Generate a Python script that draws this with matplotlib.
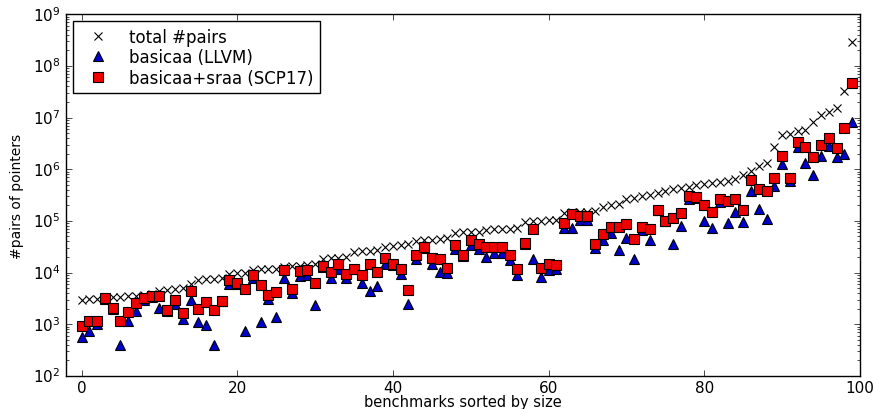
import numpy as np
import matplotlib
matplotlib.use('Agg')
import matplotlib.pyplot as plt

# values (one entry per benchmark, sorted by size)
total_pairs = [
    3.0e3, 3.05e3, 3.1e3, 3.3e3, 3.4e3, 3.45e3, 3.5e3, 3.6e3, 3.7e3, 3.8e3,
    4.4e3, 4.6e3, 4.8e3, 5.0e3, 6.0e3, 7.2e3, 7.4e3, 7.6e3, 7.8e3, 9.6e3,
    9.8e3, 1.0e4, 1.1e4, 1.15e4, 1.17e4, 1.2e4, 1.3e4, 1.33e4, 1.36e4, 1.4e4,
    1.45e4, 1.8e4, 1.9e4, 1.95e4, 2.0e4, 2.5e4, 2.6e4, 2.65e4, 2.7e4, 3.2e4,
    3.3e4, 3.4e4, 3.5e4, 4.0e4, 4.2e4, 4.3e4, 4.5e4, 4.6e4, 5.8e4, 6.0e4,
    6.1e4, 6.2e4, 6.7e4, 6.9e4, 7.0e4, 7.1e4, 7.2e4, 9.5e4, 9.8e4, 1.0e5,
    1.02e5, 1.05e5, 1.45e5, 1.48e5, 1.5e5, 1.52e5, 1.55e5, 1.9e5, 2.0e5, 2.1e5,
    2.7e5, 2.8e5, 3.1e5, 3.2e5, 3.5e5, 3.8e5, 4.1e5, 4.3e5, 4.5e5, 5.0e5,
    5.1e5, 5.4e5, 5.7e5, 6.0e5, 6.6e5, 7.8e5, 9.4e5, 1.15e6, 1.35e6, 2.7e6,
    4.6e6, 4.8e6, 5.5e6, 5.8e6, 8.3e6, 1.1e7, 1.3e7, 1.55e7, 3.2e7, 2.9e8,
]
basicaa = [
    560, 740, 1010, 3.1e3, 1.95e3, 400, 1.17e3, 1.8e3, 2.95e3, 3.4e3,
    2.1e3, 1.8e3, 2.45e3, 1.27e3, 2.95e3, 1.1e3, 990, 400, 2.8e3, 6.0e3,
    6.0e3, 730, 7.8e3, 1.1e3, 3.1e3, 1.36e3, 7.8e3, 4.0e3, 8.5e3, 8.8e3,
    2.35e3, 1.3e4, 7.8e3, 1.2e4, 7.8e3, 1.15e4, 6.2e3, 4.5e3, 5.4e3, 1.5e4,
    1.4e4, 9.5e3, 2.5e3, 1.8e4, 3.0e4, 1.45e4, 1.04e4, 1.0e4, 2.9e4, 2.1e4,
    3.4e4, 2.9e4, 2.0e4, 2.35e4, 2.35e4, 1.75e4, 9.0e3, 3.6e4, 1.87e4, 8.1e3,
    1.1e4, 1.2e4, 7.4e4, 7.4e4, 1.05e5, 1.05e5, 3.0e4, 4.2e4, 5.9e4, 2.8e4,
    4.7e4, 1.8e4, 6.6e4, 4.3e4, 1.6e5, 9.8e4, 3.5e4, 8.1e4, 2.65e5, 2.8e5,
    1.0e5, 7.4e4, 2.3e5, 9.1e4, 1.5e5, 9.6e4, 3.8e5, 1.7e5, 1.1e5, 4.8e5,
    1.25e6, 5.8e5, 2.65e6, 1.35e6, 7.9e5, 1.8e6, 2.8e6, 1.75e6, 2.0e6, 8.3e6,
]
basicaa_sraa = [
    910, 1150, 1150, 3.2e3, 2.1e3, 1.17e3, 1.75e3, 2.55e3, 3.3e3, 3.5e3,
    3.55e3, 1.87e3, 2.9e3, 1.65e3, 4.4e3, 1.95e3, 2.75e3, 1.87e3, 2.85e3, 7.3e3,
    6.2e3, 4.8e3, 8.9e3, 5.7e3, 3.7e3, 4.15e3, 1.1e4, 4.8e3, 1.06e4, 1.1e4,
    6.2e3, 1.35e4, 1.05e4, 1.5e4, 9.5e3, 1.18e4, 8.9e3, 1.44e4, 1.03e4, 1.95e4,
    1.44e4, 1.2e4, 4.6e3, 2.2e4, 3.2e4, 1.96e4, 1.8e4, 1.25e4, 3.4e4, 2.2e4,
    4.3e4, 3.6e4, 3.2e4, 3.1e4, 3.1e4, 2.2e4, 1.2e4, 3.8e4, 6.9e4, 1.25e4,
    1.5e4, 1.4e4, 9.3e4, 1.35e5, 1.24e5, 1.24e5, 3.5e4, 5.5e4, 7.8e4, 7.6e4,
    8.7e4, 4.4e4, 7.8e4, 7.1e4, 1.65e5, 1.0e5, 1.15e5, 1.45e5, 3.1e5, 2.95e5,
    2.0e5, 1.5e5, 2.6e5, 2.4e5, 2.7e5, 1.6e5, 6.2e5, 4.1e5, 3.8e5, 6.9e5,
    1.8e6, 6.9e5, 3.3e6, 2.7e6, 1.75e6, 3.0e6, 4.1e6, 2.55e6, 6.2e6, 4.6e7,
]

plt.style.use('classic')
plt.rcParams['font.family'] = ['DejaVu Sans']

fig = plt.figure(figsize=(8.73, 4.10), dpi=100, facecolor='white')
ax = fig.add_axes([0.0756, 0.0805, 0.9094, 0.8825])

bench = np.arange(len(total_pairs))
ax.plot(bench, total_pairs, 'x', color='black', ms=6, mew=0.8, label='total #pairs')
ax.plot(bench, basicaa, '^', color='#0000cc', mec='black', ms=7, mew=0.8,
        label='basicaa (LLVM)')
ax.plot(bench, basicaa_sraa, 's', color='#ee0000', mec='black', ms=7, mew=0.8,
        label='basicaa+sraa (SCP17)')

ax.set_yscale('log')
ax.set_ylim(1e2, 1e9)
ax.set_xlim(-2, 100)
ax.set_xticks([0, 20, 40, 60, 80, 100])
ax.tick_params(labelsize=11)
ax.tick_params(axis='x', pad=3)
ax.set_xlabel('benchmarks sorted by size', fontsize=10.5, labelpad=-1)
ax.set_ylabel('#pairs of pointers', fontsize=10, labelpad=6)

ax.legend(loc='upper left', numpoints=1, fontsize=12, handlelength=2.2,
          borderaxespad=0.4, labelspacing=0.15, fancybox=False)

fig.savefig('out.png', dpi=100, facecolor='white')
